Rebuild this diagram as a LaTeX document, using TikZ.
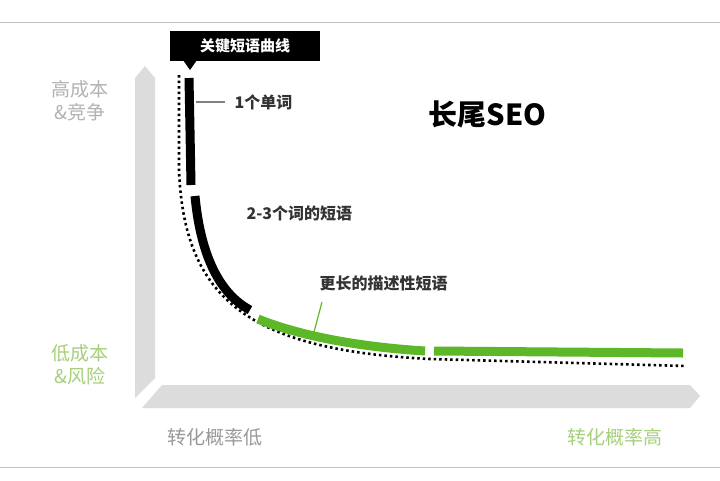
\documentclass[tikz,border=0pt]{standalone}
\usepackage{fontspec}
\setmainfont{Noto Sans CJK SC}
\begin{document}
\begin{tikzpicture}[x=1pt,y=-1pt,
  lbl/.style={font=\bfseries\fontsize{16}{18}\selectfont, text=black!80, anchor=west},
  axlbl/.style={font=\fontsize{19}{23}\selectfont, align=center},
  seg/.style={line width=9pt},
  lead/.style={line width=1.2pt}]
\definecolor{gr}{HTML}{5DB829}
\definecolor{lgr}{HTML}{A6D07A}
\definecolor{ax}{HTML}{DCDCDC}
\useasboundingbox (0,0) rectangle (720,480);
\fill[white] (0,0) rectangle (720,480);
\draw[gray!50, line width=1pt] (0,22) -- (720,22);
\draw[gray!50, line width=1pt] (0,467) -- (720,467);
% axes
\fill[ax] (135,78) -- (145,66) -- (155,78) -- (155,378) -- (135,398) -- cycle;
\fill[ax] (162,385) -- (690,385) -- (700,396) -- (690,408) -- (142,408) -- cycle;
% label box
\node[fill=black, text=white, minimum width=150pt, minimum height=30pt, font=\bfseries\fontsize{15}{17}\selectfont, anchor=north west, inner sep=0pt] (kbox) at (170,31) {关键短语曲线};
\fill[black] (183,60) -- (197,60) -- (190,70) -- cycle;
% dotted curve
\draw[line width=2.6pt, dash pattern=on 2.5pt off 3pt] (179,75) -- (179,170) .. controls (184,300) and (250,350) .. (430,359) -- (686,366);
% segments
\draw[seg, black] (189,78) .. controls (190,130) .. (191,185);
\draw[seg, black] (195,196) .. controls (201,260) and (222,295) .. (250,310);
\draw[seg, gr] (258,319) .. controls (300,336) and (360,347) .. (425,351);
\draw[seg, gr] (434,351) -- (683,353);
% labels
\node[lbl] (l1) at (231,102) {1个单词};
\draw[lead, gray] (196,102) -- (225,102);
\node[lbl] (l2) at (243,213) {2-3个词的短语};
\node[lbl] (l3) at (316,283) {更长的描述性短语};
\draw[lead, gr] (322,302) -- (314,332);
\node[font=\bfseries\fontsize{29}{33}\selectfont, anchor=west] (t) at (425,114) {长尾SEO};
\node[axlbl, text=gray!60] (a1) at (80,101) {高成本\\\&竞争};
\node[axlbl, text=lgr] (a2) at (80,365) {低成本\\\&风险};
\node[axlbl, text=gray!80] (a3) at (215,437) {转化概率低};
\node[axlbl, text=lgr] (a4) at (615,437) {转化概率高};
\end{tikzpicture}
\end{document}
